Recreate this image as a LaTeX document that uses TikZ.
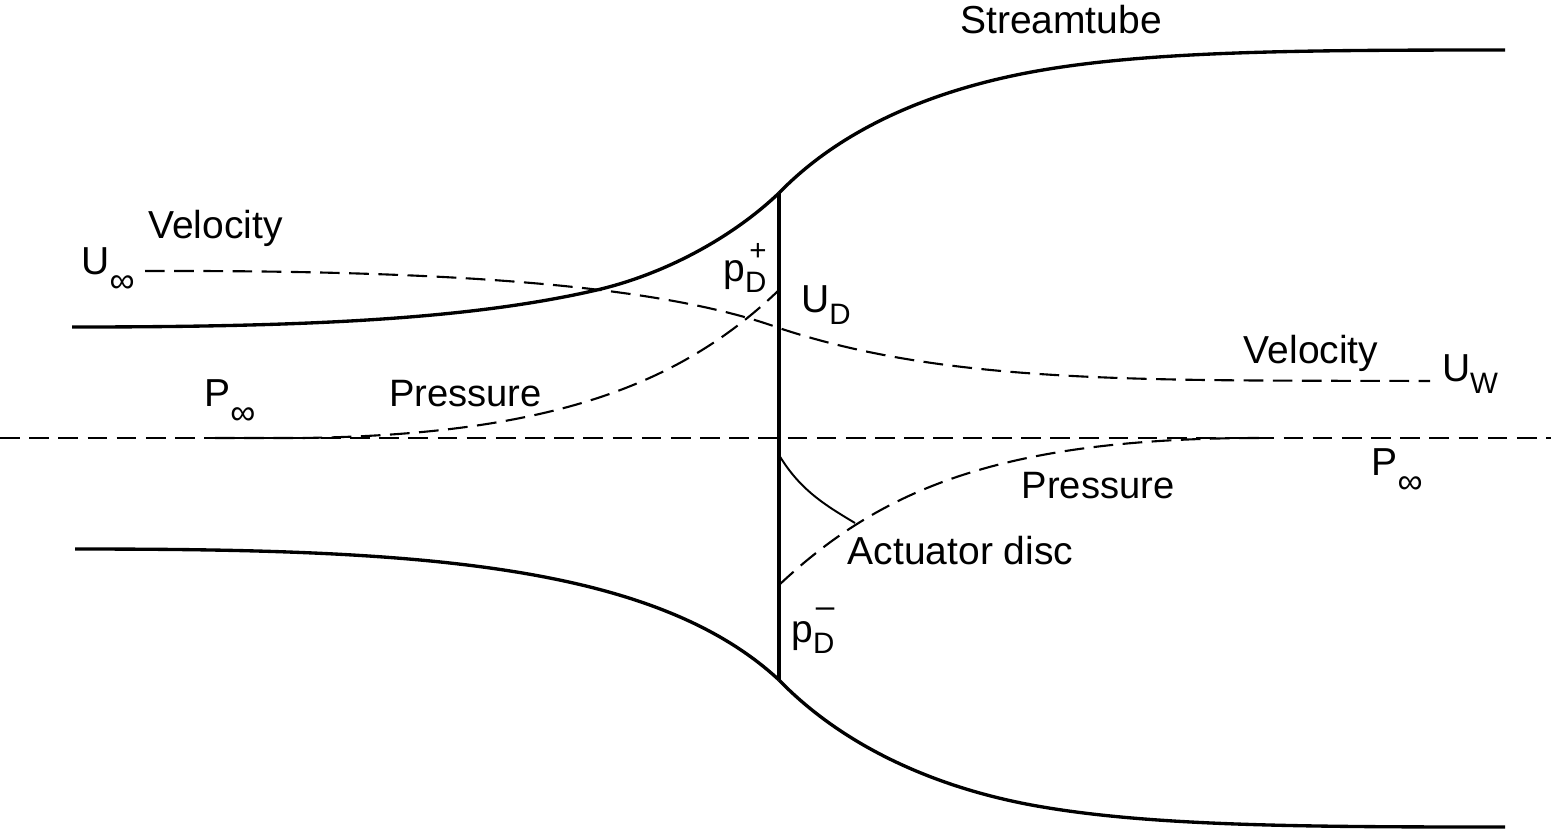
\documentclass[tikz,border=0pt]{standalone}
\usepackage{fontspec}
\setmainfont{Liberation Sans}
\newcommand{\lowtxt}[1]{\raisebox{-0.55ex}{\fontsize{8.4}{10}\selectfont #1}}
\newcommand{\lowinf}{\raisebox{-0.9ex}{\fontsize{10}{10}\selectfont ∞}}
\newcommand{\hightxt}[1]{\raisebox{1.0ex}{\fontsize{8.4}{10}\selectfont #1}}
\begin{document}
\begin{tikzpicture}
  \tikzset{
    tube/.style={line width=0.95pt},
    dashcurve/.style={line width=0.6pt,dash pattern=on 5.6pt off 2.7pt},
    lbl/.style={inner sep=0pt,font=\fontsize{11.1}{13}\selectfont},
    lblsmall/.style={inner sep=0pt,font=\fontsize{10.85}{13}\selectfont}
  }
    \useasboundingbox (0,0) rectangle (15.51,8.30);
    \coordinate (discT) at (7.79,6.37);
    \coordinate (discB) at (7.79,1.50);
    \draw[tube](0.72,5.03) .. controls (3.00,5.03) and (4.70,5.10) .. (6.01,5.41) .. controls (6.70,5.58) and (7.35,5.95) .. (discT); % Upper tube
    \draw[tube](discT) .. controls (8.40,7.00) and (9.30,7.40) .. (10.37,7.59) .. controls (11.50,7.79) and (13.00,7.80) .. (15.05,7.80);
    \draw[tube](0.75,2.81) .. controls (4.00,2.81) and (6.50,2.70) .. (discB); % Lower tube
    \draw[tube](discB) .. controls (8.40,0.87) and (9.30,0.43) .. (10.37,0.24) .. controls (11.50,0.04) and (13.00,0.03) .. (15.05,0.03);
    \draw[tube](discT)--(discB); % Disc
    \draw[dashcurve](0,3.92)--(15.51,3.92); % Axis
    \draw[dashcurve](1.45,5.59) .. controls (4.50,5.60) and (6.60,5.45) .. (7.79,5.02) .. controls (9.50,4.45) and (11.50,4.50) .. (14.30,4.49); % Velocity
    \draw[dashcurve](2.15,3.92) -- (3.00,3.92) .. controls (5.50,3.95) and (6.80,4.45) .. (7.79,5.40); % Pressure
    \draw[dashcurve](7.79,2.45) .. controls (8.80,3.40) and (10.00,3.92) .. (12.60,3.92);
    \draw[line width=0.55pt](7.79,3.75) .. controls (8.00,3.40) and (8.25,3.25) .. (8.55,3.07); % Leader
    \node[lbl] (streamtube) at (10.61,8.10) {Streamtube};
    \node[lbl] (velocityL) at (2.155,6.02) {Velocity};
    \node[lbl] (velocityR) at (13.11,4.77) {Velocity};
    \node[lblsmall] (pressureL) at (4.655,4.36) {Pressure};
    \node[lblsmall] (pressureR) at (10.98,3.44) {Pressure};
    \node[lbl] (actuator) at (9.605,2.79) {Actuator disc};
    \node[lbl] (uinf) at (1.08,5.60) {U\lowinf};
    \node[lbl] (pinfL) at (2.30,4.28) {P\lowinf};
    \node[lbl] (pinfR) at (13.97,3.59) {P\lowinf};
    \node[lbl] (ud) at (8.26,5.25) {U\lowtxt{D}};
    \node[lbl] (uw) at (14.70,4.56) {U\lowtxt{W}};
    \node[lbl] (pplus) at (7.45,5.62) {p\lowtxt{D}\llap{\hightxt{+}}};
    \node[lbl] (pminus) at (8.13,1.99) {p\lowtxt{D}\llap{\raisebox{1.2ex}{\fontsize{9.5}{10}\selectfont --}}};
  \end{tikzpicture}
\end{document}
